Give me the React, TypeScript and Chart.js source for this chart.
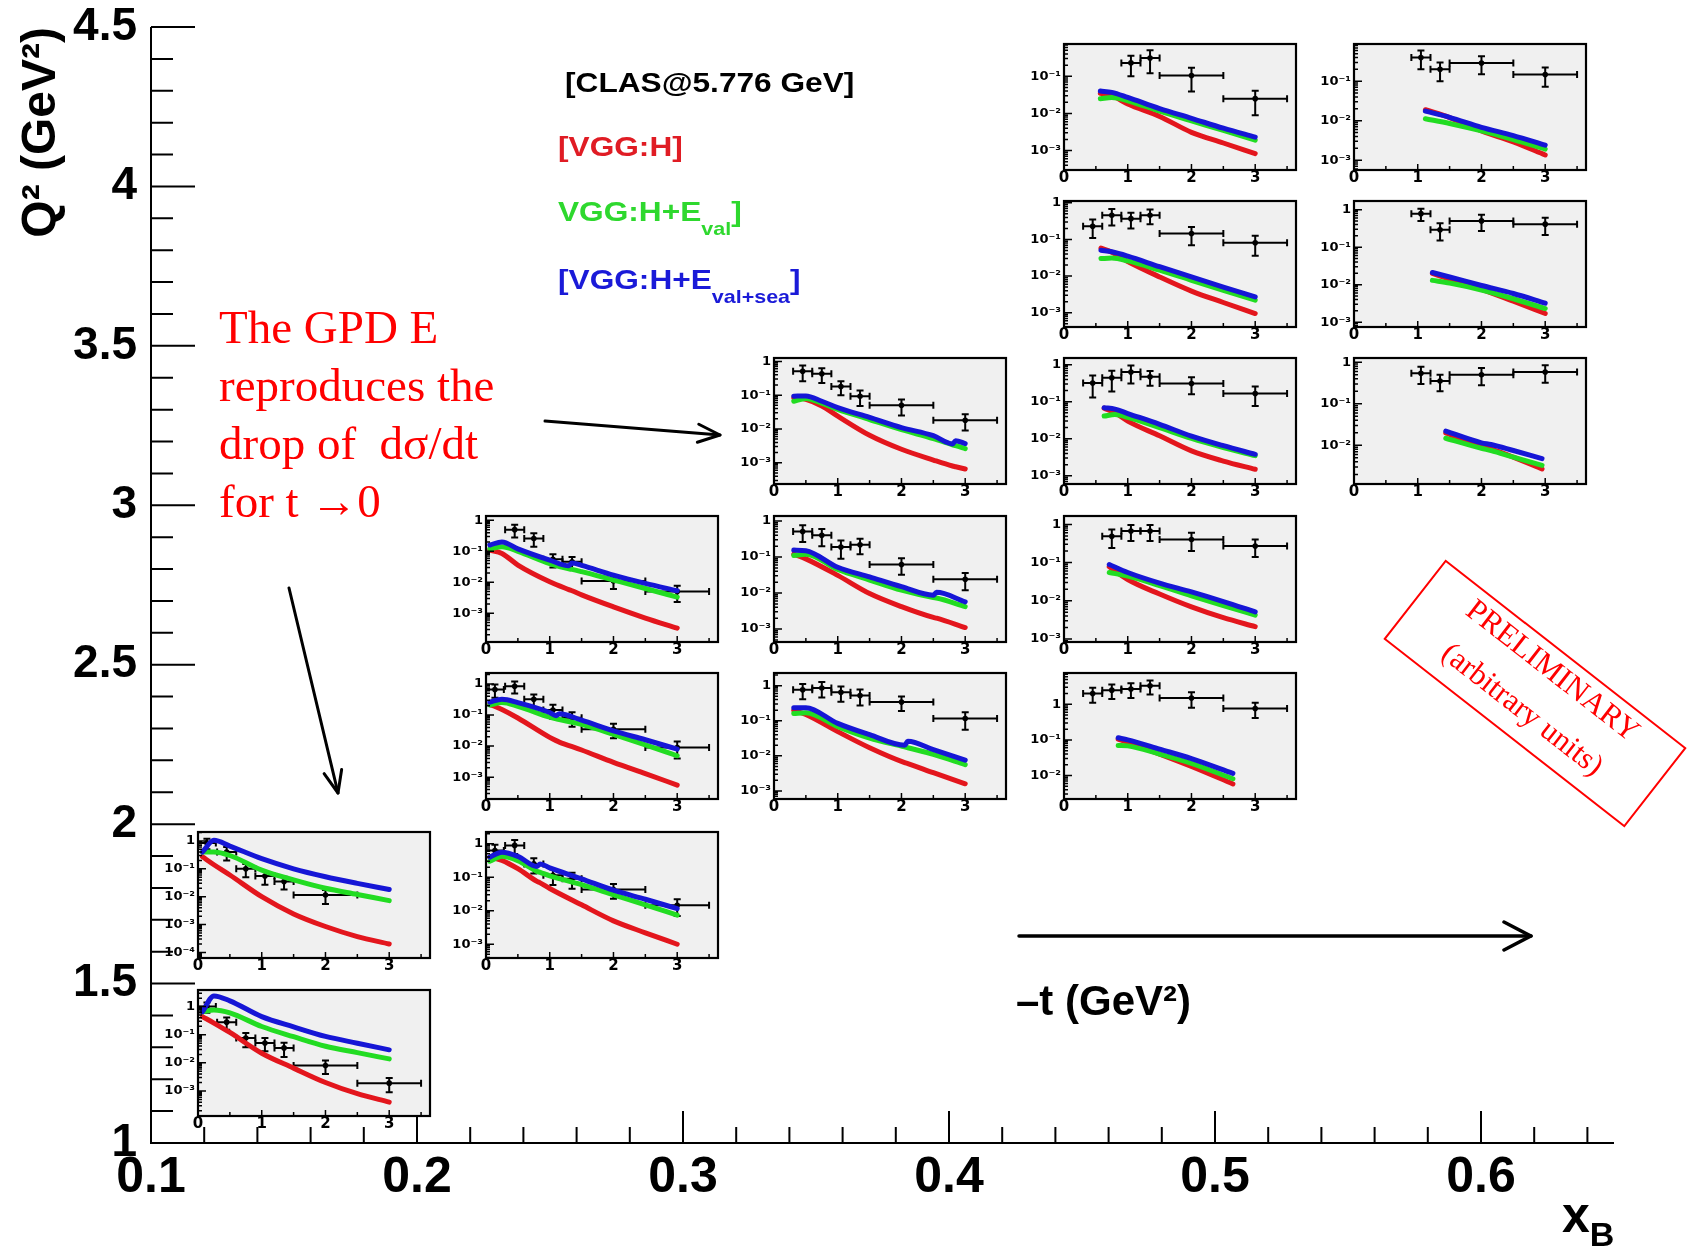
import React, { useEffect, useRef } from 'react';
import { Chart, registerables } from 'chart.js';

Chart.register(...registerables);

// ---------------- main axes ----------------
const XB_TICKS = [0.1, 0.2, 0.3, 0.4, 0.5, 0.6];
const Q2_TICKS = [1, 1.5, 2, 2.5, 3, 3.5, 4, 4.5];
const XB_LIMITS = [0.1, 0.65];
const Q2_LIMITS = [1, 4.5];
const XB_MINOR = 0.02;
const Q2_MINOR = 0.1;

// ---------------- inset axes ----------------
const INSET_T_TICKS = [0, 1, 2, 3];
const INSET_T_LIMITS = [0, 3.64];

// -t bins of the CLAS data
const T_BIN_CENTER = [0.14, 0.45, 0.75, 1.05, 1.35, 2.0, 3.0];
const T_BIN_HALF = [0.14, 0.15, 0.15, 0.15, 0.15, 0.5, 0.5];

// kinematic bin (xB, Q2) of each of the 16 insets
const PANEL_XB = [0.487, 0.596, 0.487, 0.596, 0.378, 0.487, 0.596, 0.2695, 0.378, 0.487, 0.2695, 0.378, 0.487, 0.1613, 0.2695, 0.1613];
const PANEL_Q2 = [4.249, 4.249, 3.757, 3.757, 3.264, 3.264, 3.264, 2.769, 2.769, 2.769, 2.276, 2.276, 2.276, 1.778, 1.778, 1.282];
// log10 range of each inset's vertical axis
const PANEL_LOG_MIN = [-3.46, -3.25, -3.39, -3.13, -3.63, -3.2, -2.93, -3.93, -3.36, -3.08, -3.7, -3.23, -2.66, -4.2, -3.41, -3.89];
const PANEL_LOG_MAX = [-0.13, -0.056, 0.05, 0.23, 0.1, 0.18, 0.1, 0.14, 0.14, 0.22, 0.35, 0.36, 0.88, 0.32, 0.35, 0.59];

// CLAS dsigma/dt per t-bin (null = no point)
const XSEC: (number | null)[][] = [
  [null, null, null, 0.23, 0.31, 0.105, 0.025],
  [null, null, null, 0.4, 0.2, 0.29, 0.148],
  [null, 0.23, 0.46, 0.37, 0.46, 0.145, 0.081],
  [null, null, null, 0.78, 0.29, 0.5, 0.41],
  [null, 0.51, 0.43, 0.18, 0.093, 0.05, 0.018],
  [null, 0.32, 0.44, 0.63, 0.47, 0.31, 0.166],
  [null, null, null, 0.54, 0.35, 0.5, 0.58],
  [null, 0.5, 0.26, 0.055, 0.046, 0.011, 0.005],
  [null, 0.51, 0.4, 0.19, 0.22, 0.062, 0.024],
  [null, null, 0.49, 0.67, 0.67, 0.4, 0.27],
  [0.66, 0.84, 0.32, 0.144, 0.082, 0.035, 0.009],
  [null, 0.76, 0.86, 0.65, 0.52, 0.34, 0.115],
  [null, 2.0, 2.5, 2.7, 3.3, 1.5, 0.76],
  [0.85, 0.4, 0.1, 0.055, 0.035, 0.0115, null],
  [0.63, 0.89, 0.25, 0.114, 0.09, 0.043, 0.0145],
  [1.0, 0.28, 0.076, 0.051, 0.034, 0.008, 0.0019],
];
const XSEC_ERR: (number | null)[][] = [
  [null, null, null, 0.13, 0.19, 0.066, 0.016],
  [null, null, null, 0.2, 0.1, 0.14, 0.075],
  [null, 0.12, 0.22, 0.17, 0.2, 0.075, 0.045],
  [null, null, null, 0.28, 0.14, 0.23, 0.2],
  [null, 0.25, 0.2, 0.08, 0.045, 0.025, 0.009],
  [null, 0.19, 0.25, 0.32, 0.2, 0.15, 0.09],
  [null, null, null, 0.24, 0.15, 0.22, 0.26],
  [null, 0.22, 0.12, 0.025, 0.02, 0.005, 0.0027],
  [null, 0.25, 0.2, 0.1, 0.1, 0.03, 0.012],
  [null, null, 0.25, 0.3, 0.3, 0.2, 0.13],
  [0.3, 0.35, 0.14, 0.07, 0.04, 0.017, 0.005],
  [null, 0.35, 0.4, 0.3, 0.25, 0.15, 0.06],
  [null, 0.9, 1.1, 1.2, 1.4, 0.7, 0.35],
  [0.35, 0.2, 0.05, 0.028, 0.017, 0.006, null],
  [0.3, 0.4, 0.12, 0.055, 0.045, 0.02, 0.0075],
  [0.4, 0.13, 0.04, 0.025, 0.018, 0.004, 0.001],
];

// VGG model curves: -t sampling and values
const CURVE_T = [
  [0.57, 0.75, 1.0, 1.5, 2.0, 2.5, 3.0],
  [1.12, 1.5, 2.0, 2.5, 3.0],
  [0.58, 0.75, 1.0, 1.5, 2.0, 2.5, 3.0],
  [1.23, 1.5, 2.0, 2.5, 3.0],
  [0.31, 0.5, 0.75, 1.0, 1.5, 2.0, 2.5, 2.8, 2.85, 3.0],
  [0.63, 0.8, 1.0, 1.5, 2.0, 2.5, 3.0],
  [1.44, 2.0, 2.15, 2.5, 2.95],
  [0.06, 0.25, 0.5, 1.0, 1.3, 1.35, 1.5, 2.0, 2.5, 3.0],
  [0.31, 0.5, 1.0, 1.5, 2.0, 2.5, 2.55, 3.0],
  [0.71, 1.0, 1.5, 2.0, 2.5, 3.0],
  [0.06, 0.25, 0.5, 1.0, 1.1, 1.15, 1.5, 2.0, 2.5, 3.0],
  [0.31, 0.5, 1.0, 1.5, 2.05, 2.1, 2.5, 3.0],
  [0.85, 1.0, 1.5, 2.0, 2.65],
  [0.07, 0.25, 0.5, 1.0, 1.5, 2.0, 2.5, 3.0],
  [0.06, 0.25, 0.5, 0.8, 0.85, 1.0, 1.5, 2.0, 2.5, 3.0],
  [0.07, 0.25, 0.5, 1.0, 1.5, 2.0, 2.5, 3.0],
];
const CURVE_VGG_H = [
  [0.035, 0.03, 0.018, 0.0083, 0.0031, 0.0016, 0.00083],
  [0.019, 0.012, 0.0055, 0.0029, 0.00135],
  [0.058, 0.045, 0.025, 0.0095, 0.0039, 0.0019, 0.00095],
  [0.02, 0.014, 0.0075, 0.0036, 0.0017],
  [0.085, 0.075, 0.048, 0.024, 0.0065, 0.0025, 0.0012, 0.0008, 0.00076, 0.00065],
  [0.067, 0.05, 0.03, 0.012, 0.0047, 0.0025, 0.0015],
  [0.02, 0.0095, 0.0082, 0.0052, 0.0027],
  [0.11, 0.085, 0.036, 0.0104, 0.0058, 0.0053, 0.0039, 0.0016, 0.0007, 0.00033],
  [0.12, 0.089, 0.031, 0.0097, 0.0042, 0.0021, 0.002, 0.0011],
  [0.078, 0.036, 0.015, 0.0069, 0.0036, 0.0021],
  [0.22, 0.15, 0.08, 0.019, 0.015, 0.0135, 0.0075, 0.003, 0.0013, 0.00056],
  [0.2, 0.15, 0.049, 0.017, 0.0064, 0.006, 0.0033, 0.0016],
  [0.105, 0.085, 0.04, 0.018, 0.0058],
  [0.27, 0.14, 0.06, 0.01, 0.0024, 0.00085, 0.00037, 0.0002],
  [0.4, 0.32, 0.18, 0.075, 0.068, 0.046, 0.015, 0.005, 0.0022, 0.001],
  [0.44, 0.26, 0.12, 0.022, 0.0065, 0.002, 0.0008, 0.0004],
];
const CURVE_VGG_HE_VAL = [
  [0.025, 0.027, 0.022, 0.0115, 0.0063, 0.0035, 0.0019],
  [0.0112, 0.0085, 0.0055, 0.0033, 0.0019],
  [0.03, 0.031, 0.026, 0.0145, 0.0077, 0.0041, 0.0022],
  [0.013, 0.011, 0.0072, 0.0042, 0.0023],
  [0.066, 0.08, 0.058, 0.038, 0.019, 0.0095, 0.0052, 0.0034, 0.0032, 0.0026],
  [0.041, 0.045, 0.038, 0.02, 0.0102, 0.0058, 0.0035],
  [0.0148, 0.0085, 0.0075, 0.0052, 0.0033],
  [0.12, 0.14, 0.1, 0.04, 0.027, 0.026, 0.022, 0.0118, 0.0063, 0.0033],
  [0.11, 0.12, 0.045, 0.023, 0.012, 0.0075, 0.0073, 0.0042],
  [0.055, 0.044, 0.025, 0.0135, 0.0075, 0.0042],
  [0.21, 0.25, 0.19, 0.085, 0.075, 0.072, 0.05, 0.024, 0.011, 0.0049],
  [0.16, 0.17, 0.068, 0.032, 0.018, 0.017, 0.011, 0.0056],
  [0.07, 0.068, 0.04, 0.022, 0.0081],
  [0.4, 0.4, 0.3, 0.09, 0.04, 0.02, 0.012, 0.0072],
  [0.3, 0.42, 0.31, 0.15, 0.14, 0.11, 0.06, 0.03, 0.015, 0.0074],
  [0.66, 0.76, 0.6, 0.196, 0.085, 0.039, 0.023, 0.0138],
];
const CURVE_VGG_HE_VALSEA = [
  [0.04, 0.037, 0.027, 0.0135, 0.0074, 0.004, 0.0023],
  [0.0175, 0.0122, 0.0068, 0.0042, 0.0024],
  [0.051, 0.046, 0.035, 0.018, 0.0095, 0.005, 0.0027],
  [0.021, 0.016, 0.0095, 0.0058, 0.0032],
  [0.093, 0.095, 0.066, 0.043, 0.022, 0.011, 0.0063, 0.0036, 0.0045, 0.0037],
  [0.069, 0.063, 0.048, 0.0245, 0.0118, 0.0065, 0.0038],
  [0.022, 0.0115, 0.0105, 0.0075, 0.0048],
  [0.16, 0.2, 0.12, 0.052, 0.034, 0.042, 0.035, 0.017, 0.0092, 0.0053],
  [0.156, 0.15, 0.052, 0.028, 0.015, 0.0087, 0.0105, 0.0057],
  [0.089, 0.055, 0.029, 0.017, 0.0095, 0.0051],
  [0.26, 0.32, 0.25, 0.12, 0.095, 0.11, 0.068, 0.031, 0.016, 0.008],
  [0.236, 0.235, 0.084, 0.04, 0.02, 0.026, 0.015, 0.0075],
  [0.115, 0.1, 0.055, 0.03, 0.0115],
  [0.4, 1.05, 0.65, 0.23, 0.1, 0.052, 0.03, 0.018],
  [0.4, 0.56, 0.42, 0.21, 0.25, 0.19, 0.09, 0.041, 0.022, 0.0116],
  [0.66, 2.4, 1.6, 0.44, 0.19, 0.087, 0.05, 0.029],
];

// ---------------- styles / layout ----------------
const SANS = '"Liberation Sans", Arial, Helvetica, sans-serif';
const SERIF = '"Liberation Serif", "Times New Roman", serif';
const INSET_FONT = '"DejaVu Sans", sans-serif';
const RED = '#e3161d';
const GREEN = '#22dc22';
const BLUE = '#1616d6';
const FRAME_W = 232;
const FRAME_H = 126;
const PAD_L = 46, PAD_T = 10, PAD_R = 12, PAD_B = 22;
const CW = FRAME_W + PAD_L + PAD_R;
const CH = FRAME_H + PAD_T + PAD_B;

const SUP: Record<string, string> = { '-': '⁻', '0': '⁰', '1': '¹', '2': '²', '3': '³', '4': '⁴', '5': '⁵' };
const supText = (n: number) => String(n).split('').map((c) => SUP[c] || c).join('');

const zeroPad = (s: any) => {
  s.paddingTop = 0; s.paddingBottom = 0; s.paddingLeft = 0; s.paddingRight = 0;
};

const mainAxisPlugin = {
  id: 'mainAxis',
  afterDraw(chart: any) {
    const { ctx, chartArea: a, scales } = chart;
    const x = scales.x, y = scales.y;
    ctx.save();
    ctx.strokeStyle = '#000';
    ctx.lineWidth = 2;
    ctx.beginPath();
    ctx.moveTo(a.left, a.top);
    ctx.lineTo(a.left, a.bottom);
    ctx.lineTo(a.right, a.bottom);
    for (let k = 0; ; k++) {
      const v = XB_LIMITS[0] + k * XB_MINOR;
      if (v > XB_LIMITS[1] + 1e-9) break;
      const px = x.getPixelForValue(v);
      const major = XB_TICKS.some((t) => Math.abs(t - v) < 1e-6);
      ctx.moveTo(px, a.bottom);
      ctx.lineTo(px, a.bottom - (major ? 32 : 16));
    }
    for (let k = 0; ; k++) {
      const v = Q2_LIMITS[0] + k * Q2_MINOR;
      if (v > Q2_LIMITS[1] + 1e-9) break;
      const py = y.getPixelForValue(v);
      const major = Q2_TICKS.some((t) => Math.abs(t - v) < 1e-6);
      ctx.moveTo(a.left, py);
      ctx.lineTo(a.left + (major ? 44 : 22), py);
    }
    ctx.stroke();
    ctx.restore();
  },
};

function buildInset(canvas: HTMLCanvasElement, i: number) {
  const lo = PANEL_LOG_MIN[i], hi = PANEL_LOG_MAX[i];
  const decades: number[] = [];
  for (let e = Math.ceil(lo - 1e-9); e <= Math.floor(hi + 1e-9); e++) decades.push(e);
  const curve = (vals: number[]) => CURVE_T[i].map((t, k) => ({ x: t, y: vals[k] }));
  const points: { x: number; y: number }[] = [];
  const bars: { t: number; dt: number; v: number; e: number }[] = [];
  XSEC[i].forEach((v, k) => {
    if (v == null) return;
    points.push({ x: T_BIN_CENTER[k], y: v });
    bars.push({ t: T_BIN_CENTER[k], dt: T_BIN_HALF[k], v, e: XSEC_ERR[i][k] as number });
  });
  const lineDs = (label: string, vals: number[], color: string, order: number) => ({
    label,
    data: curve(vals),
    showLine: true,
    borderColor: color,
    backgroundColor: color,
    borderWidth: 5,
    pointRadius: 0,
    cubicInterpolationMode: 'monotone',
    borderCapStyle: 'round',
    order,
  });

  const plugin = {
    id: 'rootInset',
    beforeDatasetsDraw(chart: any) {
      const { ctx, chartArea: a, scales } = chart;
      const x = scales.x, y = scales.y;
      ctx.save();
      ctx.fillStyle = '#f0f0f0';
      ctx.fillRect(a.left, a.top, a.right - a.left, a.bottom - a.top);
      ctx.beginPath();
      ctx.rect(a.left, a.top, a.right - a.left, a.bottom - a.top);
      ctx.clip();
      ctx.strokeStyle = '#000';
      ctx.lineWidth = 2;
      bars.forEach((b) => {
        const px = x.getPixelForValue(b.t);
        const py = y.getPixelForValue(b.v);
        const xl = x.getPixelForValue(b.t - b.dt);
        const xr = x.getPixelForValue(b.t + b.dt);
        const yt = y.getPixelForValue(b.v + b.e);
        const yb = b.v - b.e > 0 ? y.getPixelForValue(b.v - b.e) : a.bottom;
        ctx.beginPath();
        ctx.moveTo(xl, py); ctx.lineTo(xr, py);
        ctx.moveTo(xl, py - 3.5); ctx.lineTo(xl, py + 3.5);
        ctx.moveTo(xr, py - 3.5); ctx.lineTo(xr, py + 3.5);
        ctx.moveTo(px, yt); ctx.lineTo(px, yb);
        ctx.moveTo(px - 3.5, yt); ctx.lineTo(px + 3.5, yt);
        ctx.moveTo(px - 3.5, yb); ctx.lineTo(px + 3.5, yb);
        ctx.stroke();
      });
      ctx.restore();
    },
    afterDatasetsDraw(chart: any) {
      const { ctx, chartArea: a, scales } = chart;
      const x = scales.x, y = scales.y;
      ctx.save();
      ctx.strokeStyle = '#000';
      ctx.lineWidth = 1.5;
      ctx.beginPath();
      for (let e = Math.floor(lo); e <= Math.ceil(hi); e++) {
        for (let k = 1; k <= 9; k++) {
          const lv = Math.log10(k) + e;
          if (lv < lo || lv > hi) continue;
          const py = y.getPixelForValue(Math.pow(10, lv));
          ctx.moveTo(a.left, py);
          ctx.lineTo(a.left + (k === 1 ? 8 : 4), py);
        }
      }
      for (let t = 0; t <= INSET_T_LIMITS[1] + 1e-9; t += 0.5) {
        const px = x.getPixelForValue(t);
        ctx.moveTo(px, a.bottom);
        ctx.lineTo(px, a.bottom - (Number.isInteger(t) ? 6 : 4));
      }
      ctx.stroke();
      ctx.lineWidth = 2.2;
      ctx.strokeRect(a.left, a.top, a.right - a.left, a.bottom - a.top);
      ctx.restore();
    },
  };

  return new Chart(canvas, {
    type: 'scatter',
    data: {
      datasets: [
        lineDs('VGG:H+E val+sea', CURVE_VGG_HE_VALSEA[i], BLUE, 0),
        lineDs('VGG:H+E val', CURVE_VGG_HE_VAL[i], GREEN, 1),
        lineDs('VGG:H', CURVE_VGG_H[i], RED, 2),
        {
          label: 'CLAS',
          data: points,
          showLine: false,
          pointRadius: 2.8,
          pointBackgroundColor: '#000',
          pointBorderWidth: 0,
          order: 3,
        } as any,
      ] as any,
    },
    options: {
      responsive: false,
      animation: false,
      devicePixelRatio: 1,
      events: [],
      layout: { padding: { left: 4, top: PAD_T, right: PAD_R, bottom: 2 } },
      plugins: { legend: { display: false }, tooltip: { enabled: false } },
      scales: {
        x: {
          type: 'linear',
          min: INSET_T_LIMITS[0],
          max: INSET_T_LIMITS[1],
          afterBuildTicks: (s: any) => { s.ticks = INSET_T_TICKS.map((v) => ({ value: v })); },
          afterFit: (s: any) => { s.height = 20; zeroPad(s); },
          grid: { display: false, drawTicks: false },
          border: { display: false },
          ticks: {
            autoSkip: false,
            maxRotation: 0,
            padding: 1,
            color: '#000',
            font: { family: INSET_FONT, size: 15, weight: 'bold', lineHeight: 1 },
            callback: (v: any) => String(v),
          },
        },
        y: {
          type: 'logarithmic',
          min: Math.pow(10, lo),
          max: Math.pow(10, hi),
          afterBuildTicks: (s: any) => { s.ticks = decades.map((e) => ({ value: Math.pow(10, e) })); },
          afterFit: (s: any) => { s.width = 42; zeroPad(s); },
          grid: { display: false, drawTicks: false },
          border: { display: false },
          ticks: {
            autoSkip: false,
            padding: 3,
            color: '#000',
            font: { family: INSET_FONT, size: 13, weight: 'bold', lineHeight: 1 },
            callback: (v: any) => {
              const e = Math.round(Math.log10(Number(v)));
              return e === 0 ? '1' : '10' + supText(e);
            },
          },
        },
      },
    } as any,
    plugins: [plugin],
  });
}

function Arrow({ x1, y1, x2, y2, head = 22, hw = 9, w = 3 }: any) {
  const ang = Math.atan2(y2 - y1, x2 - x1);
  const bx = x2 - head * Math.cos(ang), by = y2 - head * Math.sin(ang);
  const px = -Math.sin(ang) * hw, py = Math.cos(ang) * hw;
  return (
    <g stroke="#000" strokeWidth={w} fill="none" strokeLinecap="round" strokeLinejoin="round">
      <line x1={x1} y1={y1} x2={x2} y2={y2} />
      <polyline points={`${bx + px},${by + py} ${x2},${y2} ${bx - px},${by - py}`} />
    </g>
  );
}

export default function App() {
  const mainRef = useRef<HTMLCanvasElement | null>(null);
  const insetRefs = useRef<(HTMLCanvasElement | null)[]>([]);

  useEffect(() => {
    document.documentElement.style.overflow = 'hidden';
    const charts: Chart[] = [];
    const main = new Chart(mainRef.current as HTMLCanvasElement, {
      type: 'scatter',
      data: { datasets: [] },
      options: {
        responsive: false,
        animation: false,
        devicePixelRatio: 1,
        events: [],
        layout: { padding: { left: 0, top: 27, right: 77, bottom: 0 } },
        plugins: { legend: { display: false }, tooltip: { enabled: false } },
        scales: {
          x: {
            type: 'linear',
            position: 'bottom',
            min: XB_LIMITS[0],
            max: XB_LIMITS[1],
            afterBuildTicks: (s: any) => { s.ticks = XB_TICKS.map((v) => ({ value: v })); },
            afterFit: (s: any) => { s.height = 110; zeroPad(s); },
            grid: { display: false, drawTicks: false },
            border: { display: false },
            ticks: {
              autoSkip: false,
              maxRotation: 0,
              padding: 10,
              color: '#000',
              font: { family: SANS, size: 50, weight: 'bold', lineHeight: 1 },
              callback: (v: any) => Number(v).toFixed(1),
            },
          },
          y: {
            type: 'linear',
            position: 'left',
            min: Q2_LIMITS[0],
            max: Q2_LIMITS[1],
            afterBuildTicks: (s: any) => { s.ticks = Q2_TICKS.map((v) => ({ value: v })); },
            afterFit: (s: any) => { s.width = 151; zeroPad(s); },
            grid: { display: false, drawTicks: false },
            border: { display: false },
            title: {
              display: true,
              text: 'Q² (GeV²)',
              align: 'end',
              color: '#000',
              font: { family: SANS, size: 48, weight: 'bold', lineHeight: 1 },
              padding: { top: 18, bottom: 0 },
            },
            ticks: {
              autoSkip: false,
              padding: 14,
              color: '#000',
              font: { family: SANS, size: 46, weight: 'bold', lineHeight: 1 },
              callback: (v: any) => String(v),
            },
          },
        },
      } as any,
      plugins: [mainAxisPlugin],
    });
    charts.push(main);

    PANEL_XB.forEach((xb, i) => {
      const cv = insetRefs.current[i];
      if (!cv) return;
      const cx = main.scales.x.getPixelForValue(xb);
      const cy = main.scales.y.getPixelForValue(PANEL_Q2[i]);
      cv.style.left = `${Math.round(cx - FRAME_W / 2 - PAD_L)}px`;
      cv.style.top = `${Math.round(cy - FRAME_H / 2 - PAD_T)}px`;
      charts.push(buildInset(cv, i));
    });

    return () => charts.forEach((c) => c.destroy());
  }, []);

  const legendBase: React.CSSProperties = {
    position: 'absolute',
    fontFamily: SANS,
    fontWeight: 'bold',
    fontSize: 28,
    lineHeight: '28px',
    whiteSpace: 'pre',
    transform: 'scaleX(1.13)',
    transformOrigin: 'left center',
  };
  const sub: React.CSSProperties = { fontSize: 19, position: 'relative', top: 14 };

  return (
    <div style={{ position: 'absolute', left: 0, top: 0, width: 1691, height: 1253, overflow: 'hidden', background: '#fff' }}>
      <canvas ref={mainRef} width={1691} height={1253} style={{ position: 'absolute', left: 0, top: 0, width: 1691, height: 1253 }} />
      {PANEL_XB.map((_, i) => (
        <canvas
          key={i}
          ref={(el) => { insetRefs.current[i] = el; }}
          width={CW}
          height={CH}
          style={{ position: 'absolute', left: 0, top: 0, width: CW, height: CH }}
        />
      ))}

      <div style={{ ...legendBase, left: 565, top: 69, color: '#000' }}>[CLAS@5.776 GeV]</div>
      <div style={{ ...legendBase, left: 558, top: 133, color: '#e01c24' }}>[VGG:H]</div>
      <div style={{ ...legendBase, left: 558, top: 198, color: '#2ed82e' }}>
        VGG:H+E<span style={sub}>val</span>]
      </div>
      <div style={{ ...legendBase, left: 558, top: 266, color: '#1a1ad8' }}>
        [VGG:H+E<span style={sub}>val+sea</span>]
      </div>

      <div
        style={{
          position: 'absolute',
          left: 219,
          top: 298,
          fontFamily: SERIF,
          fontSize: 47,
          lineHeight: '58px',
          color: '#ff0000',
          whiteSpace: 'pre',
        }}
      >
        {'The GPD E\nreproduces the\ndrop of  dσ/dt\nfor t →0'}
      </div>

      <div
        style={{
          position: 'absolute',
          left: 1016,
          top: 980,
          fontFamily: SANS,
          fontWeight: 'bold',
          fontSize: 42,
          lineHeight: '42px',
          color: '#000',
          whiteSpace: 'pre',
        }}
      >
        –t (GeV²)
      </div>

      <div
        style={{
          position: 'absolute',
          left: 1562,
          top: 1190,
          fontFamily: SANS,
          fontWeight: 'bold',
          fontSize: 50,
          lineHeight: '50px',
          color: '#000',
          whiteSpace: 'pre',
        }}
      >
        x<span style={{ fontSize: 34, position: 'relative', top: 14 }}>B</span>
      </div>

      <div
        style={{
          position: 'absolute',
          left: 1535 - 153,
          top: 693 - 50,
          width: 306,
          height: 101,
          border: '2px solid #ff0000',
          boxSizing: 'border-box',
          transform: 'rotate(38deg)',
          color: '#ff0000',
          fontFamily: SERIF,
          textAlign: 'center',
        }}
      >
        <div style={{ fontSize: 31, lineHeight: '34px', marginTop: 2 }}>PRELIMINARY</div>
        <div style={{ fontSize: 31, lineHeight: '34px', marginTop: 15 }}>(arbitrary units)</div>
      </div>

      <svg width={1691} height={1253} style={{ position: 'absolute', left: 0, top: 0, pointerEvents: 'none' }}>
        <Arrow x1={545} y1={421} x2={720} y2={435} />
        <Arrow x1={289} y1={588} x2={338} y2={793} />
        <Arrow x1={1019} y1={936} x2={1531} y2={936} head={27} hw={14} w={3.5} />
      </svg>
    </div>
  );
}
